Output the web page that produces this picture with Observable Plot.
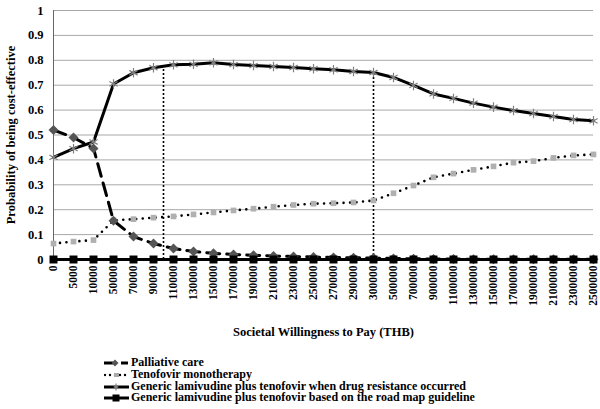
<!DOCTYPE html>
<html><head><meta charset="utf-8">
<script src="https://cdn.jsdelivr.net/npm/d3@7"></script>
<script src="https://cdn.jsdelivr.net/npm/@observablehq/plot@0.6"></script>
<style>
body{margin:0;background:#fff;font-family:"Liberation Serif",Tinos,"Times New Roman",Times,"DejaVu Serif",serif;}
#chart{width:600px;height:345px;}
#chart svg, #chart svg text{font-family:"Liberation Serif",Tinos,"Times New Roman",Times,"DejaVu Serif",serif !important;}
#legend{padding-top:12px;margin-left:104px;font-weight:bold;font-size:12px;color:#000;}
.row{display:flex;align-items:center;height:11.8px;line-height:11.8px;white-space:nowrap;}
.row svg{width:26px;height:12px;flex:none;margin-right:1px;}
</style></head>
<body>
<div id="chart"></div>
<div id="legend"></div>
<script>
const wtp = [0,5000,10000,50000,70000,90000,110000,130000,150000,170000,190000,210000,230000,250000,270000,290000,300000,500000,700000,900000,1100000,1300000,1500000,1700000,1900000,2100000,2300000,2500000];
const palliative = [0.52,0.49,0.446,0.156,0.092,0.064,0.044,0.032,0.025,0.02,0.017,0.014,0.012,0.01,0.008,0.007,0.006,0.004,0.003,0.002,0.002,0.001,0.001,0.001,0.001,0.001,0.001,0.001];
const tenofovir = [0.064,0.072,0.078,0.157,0.162,0.168,0.173,0.181,0.189,0.197,0.204,0.212,0.219,0.224,0.226,0.229,0.237,0.266,0.297,0.33,0.345,0.36,0.374,0.389,0.395,0.408,0.418,0.422];
const resistance = [0.41,0.445,0.472,0.705,0.75,0.77,0.782,0.784,0.79,0.783,0.779,0.775,0.771,0.766,0.762,0.755,0.751,0.731,0.699,0.665,0.647,0.628,0.612,0.598,0.586,0.574,0.562,0.557];
const roadmap = [0,0,0,0,0,0,0,0,0,0,0,0,0,0,0,0,0,0,0,0,0,0,0,0,0,0,0,0];
const yTicks = [0,0.1,0.2,0.3,0.4,0.5,0.6,0.7,0.8,0.9,1];
const refIndex = [5.5,16];
const refTop = [0.775,0.75];
const seriesNames = ["Palliative care","Tenofovir monotherapy","Generic lamivudine plus tenofovir when drug resistance occurred","Generic lamivudine plus tenofovir based on the road map guideline"];

const rows = wtp.map((w,i)=>({i, w, palliative:palliative[i], tenofovir:tenofovir[i], resistance:resistance[i], roadmap:roadmap[i]}));
const refs = refIndex.map((x,k)=>({x, top:refTop[k]}));
const serif = "'Liberation Serif',Tinos,'Times New Roman',Times,'DejaVu Serif',serif";

const plot = Plot.plot({
  width:600, height:345,
  marginLeft:53, marginRight:7, marginTop:10, marginBottom:86,
  style:{fontFamily:serif, fontWeight:"bold", fontSize:"12px", color:"#000", background:"#fff", overflow:"visible"},
  x:{type:"linear", domain:[0, wtp.length-1]},
  y:{domain:[0,1]},
  marks:[
    Plot.gridY(yTicks, {stroke:"#a8a8a8", strokeOpacity:1, strokeWidth:1}),
    Plot.ruleX([0], {stroke:"#666", strokeWidth:1}),
    Plot.axisY(yTicks, {tickSize:0, tickPadding:10, tickFormat:d=>String(d), fontSize:12.5, label:null}),
    Plot.axisX(d3.range(wtp.length), {tickFormat:i=>String(wtp[i]), tickRotate:-90, tickSize:0, tickPadding:6, fontSize:11.5, label:null}),
    Plot.text(["Probability of being cost-effective"], {frameAnchor:"left", textAnchor:"middle", dx:-43, rotate:-90, fontSize:12.5, fontWeight:"bold"}),
    Plot.text(["Societal Willingness to Pay (THB)"], {frameAnchor:"bottom", dy:76, fontSize:12.5, fontWeight:"bold"}),
    Plot.ruleX(refs, {x:"x", y1:0, y2:"top", stroke:"#000", strokeWidth:1.6, strokeDasharray:"2,2"}),
    Plot.line(rows, {x:"i", y:"tenofovir", stroke:"#000", strokeWidth:2.6, strokeDasharray:"0,6.5", strokeLinecap:"round"}),
    Plot.dot(rows, {x:"i", y:"tenofovir", symbol:"square", r:3.2, fill:"#b0b0b0"}),
    Plot.line(rows, {x:"i", y:"resistance", stroke:"#000", strokeWidth:3}),
    Plot.dot(rows, {x:"i", y:"resistance", symbol:"asterisk", r:4.5, stroke:"#808080", strokeWidth:1.2}),
    Plot.line(rows, {x:"i", y:"palliative", stroke:"#000", strokeWidth:3, strokeDasharray:"13,7"}),
    Plot.dot(rows, {x:"i", y:"palliative", symbol:"diamond2", r:4.5, fill:"#555"}),
    Plot.ruleY([0], {stroke:"#000", strokeWidth:1}),
    Plot.line(rows, {x:"i", y:"roadmap", stroke:"#000", strokeWidth:3}),
    Plot.dot(rows, {x:"i", y:"roadmap", symbol:"square", r:4.5, fill:"#000"})
  ]
});
document.getElementById("chart").append(plot);

const swatches = [
  `<line x1="0" y1="6" x2="9" y2="6" stroke="#000" stroke-width="3"/><path d="M11,2.5 L14.5,6 L11,9.5 L7.5,6Z" fill="#555"/><line x1="17" y1="6" x2="24" y2="6" stroke="#000" stroke-width="3"/>`,
  `<line x1="1" y1="6" x2="25" y2="6" stroke="#000" stroke-width="2.4" stroke-dasharray="0,5" stroke-linecap="round"/><rect x="10" y="4" width="5" height="4" fill="#aaa"/>`,
  `<line x1="0" y1="6" x2="25" y2="6" stroke="#000" stroke-width="3"/><path d="M12,2.5V9.5M9,4.2L15,7.8M9,7.8L15,4.2" stroke="#808080" stroke-width="1.2"/>`,
  `<line x1="0" y1="6" x2="25" y2="6" stroke="#000" stroke-width="3"/><rect x="8.5" y="2.5" width="7" height="7" fill="#000"/>`
];
const legend = document.getElementById("legend");
seriesNames.forEach((name,k)=>{
  const row = document.createElement("div");
  row.className = "row";
  row.innerHTML = `<svg viewBox="0 0 26 12">${swatches[k]}</svg><span>${name}</span>`;
  legend.append(row);
});
</script>
</body></html>
